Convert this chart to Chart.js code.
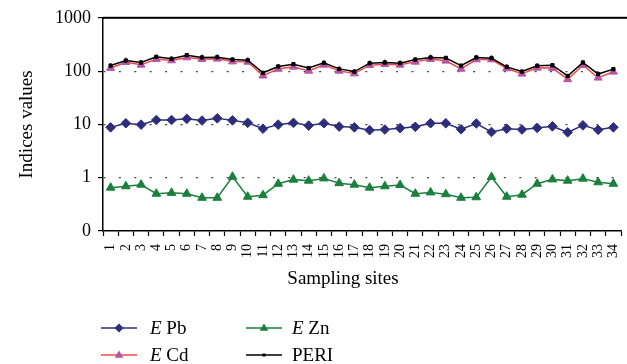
<!DOCTYPE html>
<html>
<head>
<meta charset="utf-8">
<script src="https://cdn.jsdelivr.net/npm/chart.js@4.4.0/dist/chart.umd.min.js"></script>
<style>
body { margin: 0; background: #fff; }
#wrap { position: relative; width: 627px; height: 364px; font-family: "Liberation Serif", serif; color: #000; }
#chart { position: absolute; left: 0; top: 0; }
#xtitle { position: absolute; left: 243px; top: 266px; width: 200px; text-align: center; font-size: 19px; line-height: 24px; }
.leg { position: absolute; height: 24px; line-height: 24px; font-size: 19px; white-space: nowrap; }
.leg svg { position: absolute; left: 0; top: 6px; }
.leg span { position: absolute; top: 0; }
</style>
</head>
<body>
<div id="wrap">
  <canvas id="chart" width="627" height="364"></canvas>
  <div id="xtitle">Sampling sites</div>
  <div id="legend"></div>
</div>
<script>
// data
const categories = ['1','2','3','4','5','6','7','8','9','10','11','12','13','14','15','16','17',
  '18','19','20','21','22','23','24','25','26','27','28','29','30','31','32','33','34'];

const ePb = [8.8, 10.5, 9.9, 12.1, 12.1, 12.7, 11.8, 13.0, 11.9, 10.7, 8.3, 9.9, 10.7, 9.5, 10.5, 9.1, 8.8,
  7.8, 8.0, 8.5, 9.0, 10.5, 10.5, 8.1, 10.4, 7.2, 8.3, 8.0, 8.6, 9.2, 7.1, 9.6, 7.9, 8.8];

const eZn = [0.65, 0.69, 0.74, 0.50, 0.52, 0.50, 0.42, 0.42, 1.04, 0.44, 0.47, 0.77, 0.92, 0.88, 0.97, 0.79, 0.74,
  0.65, 0.69, 0.73, 0.50, 0.53, 0.49, 0.42, 0.43, 1.03, 0.44, 0.48, 0.77, 0.93, 0.88, 0.96, 0.82, 0.77];

const eCd = [114, 147, 131, 168, 158, 180, 168, 170, 151, 149, 82, 110, 120, 101, 131, 101, 90,
  129, 135, 131, 149, 168, 156, 110, 165, 165, 112, 89, 115, 114, 70, 129, 75, 97];

const peri = [127, 158, 145, 185, 170, 199, 180, 182, 165, 160, 93, 122, 135, 114, 143, 110, 98,
  141, 145, 141, 165, 180, 177, 127, 180, 175, 120, 98, 126, 129, 81, 145, 88, 109];

const yTickValues = [0.1, 1, 10, 100, 1000];
const yTickLabels = ['0', '1', '10', '100', '1000'];

const serif = '"Liberation Serif", serif';

const datasets = [
  { label: 'E Pb', data: ePb, borderColor: '#2e2d7c', backgroundColor: '#2e2d7c',
    pointStyle: 'rectRot', pointRadius: 4.8, borderWidth: 1.5, order: 3 },
  { label: 'E Zn', data: eZn, borderColor: '#1b7f3e', backgroundColor: '#1b7f3e',
    pointStyle: 'triangle', pointRadius: 5, borderWidth: 1.5, order: 4 },
  { label: 'E Cd', data: eCd, borderColor: '#f04848', backgroundColor: '#b654a6',
    pointBorderColor: '#b654a6', pointStyle: 'triangle', pointRadius: 4.6, borderWidth: 1.5, order: 2 },
  { label: 'PERI', data: peri, borderColor: '#000', backgroundColor: '#000',
    pointStyle: 'rect', pointRadius: 2.3, borderWidth: 1.5, order: 1 }
];
datasets.forEach(d => { d.tension = 0; d.pointBorderWidth = 1; d.pointHoverRadius = d.pointRadius; });

// frame line along the top of the plot (1000 level), drawn before the datasets
const topLine = {
  id: 'topLine',
  beforeDatasetsDraw(chart) {
    const a = chart.chartArea;
    const c = chart.ctx;
    c.save();
    c.fillStyle = '#000';
    c.fillRect(a.left, a.top - 1, chart.width - a.left, 2);
    c.restore();
  }
};

const chart = new Chart(document.getElementById('chart'), {
  type: 'line',
  data: { labels: categories, datasets: datasets },
  plugins: [topLine],
  options: {
    responsive: false,
    animation: false,
    devicePixelRatio: 1,
    layout: { padding: { top: 17, left: 0, right: 0, bottom: 0 } },
    plugins: { legend: { display: false }, tooltip: { enabled: false } },
    scales: {
      x: {
        offset: true,
        grid: { offset: true, drawOnChartArea: false, tickLength: 5, tickColor: '#000', tickWidth: 1.2 },
        border: { color: '#000', width: 1.5 },
        ticks: { color: '#000', font: { family: serif, size: 14 }, minRotation: 90, maxRotation: 90,
          padding: 8, autoSkip: false },
        afterFit: s => { s.height = 133; s.paddingLeft = 0; s.paddingRight = 0; }
      },
      y: {
        type: 'logarithmic',
        min: 0.1,
        max: 1000,
        afterBuildTicks: s => { s.ticks = yTickValues.map(v => ({ value: v })); },
        ticks: {
          color: '#000', font: { family: serif, size: 18 }, padding: 7,
          callback: v => yTickLabels[yTickValues.indexOf(v)]
        },
        grid: {
          color: c => (c.tick && (c.tick.value === 0.1 || c.tick.value === 1000)) ? 'rgba(0,0,0,0)' : '#444',
          lineWidth: 1.2,
          tickLength: 5, tickColor: '#000', tickWidth: 1.2
        },
        border: {
          color: '#000', width: 1.5,
          dash: c => c.tick ? [2, 13.4] : []
        },
        title: { display: true, text: 'Indices values', color: '#000', font: { family: serif, size: 19 }, padding: { top: 16, bottom: 0 } },
        afterFit: s => { s.width = 103; }
      }
    }
  }
});

// html legend so the E can be italic
const legendPos = [ [101, 316], [246, 316], [101, 343], [246, 343] ];
const legendOrder = [0, 1, 2, 3];
const legendHtml = ['<i>E</i> Pb', '<i>E</i> Zn', '<i>E</i> Cd', 'PERI'];

function markerSvg(ds) {
  const c = ds.backgroundColor;
  let m = '';
  if (ds.pointStyle === 'rectRot') m = '<polygon points="18,1.5 22.5,6 18,10.5 13.5,6" fill="' + c + '"/>';
  else if (ds.pointStyle === 'triangle') m = '<polygon points="18,1.5 22.3,8.8 13.7,8.8" fill="' + c + '"/>';
  else m = '<rect x="16.5" y="4.5" width="3" height="3" fill="' + c + '"/>';
  return '<svg width="36" height="12"><line x1="0" y1="6" x2="36" y2="6" stroke="' + ds.borderColor + '" stroke-width="1.5"/>' + m + '</svg>';
}

const legendEl = document.getElementById('legend');
legendOrder.forEach((di, i) => {
  const ds = chart.data.datasets[di];
  const div = document.createElement('div');
  div.className = 'leg';
  div.style.left = legendPos[i][0] + 'px';
  div.style.top = legendPos[i][1] + 'px';
  div.innerHTML = markerSvg(ds) + '<span style="left:' + (i % 2 === 0 ? 49 : 46) + 'px">' + legendHtml[i] + '</span>';
  legendEl.appendChild(div);
});
</script>
</body>
</html>
